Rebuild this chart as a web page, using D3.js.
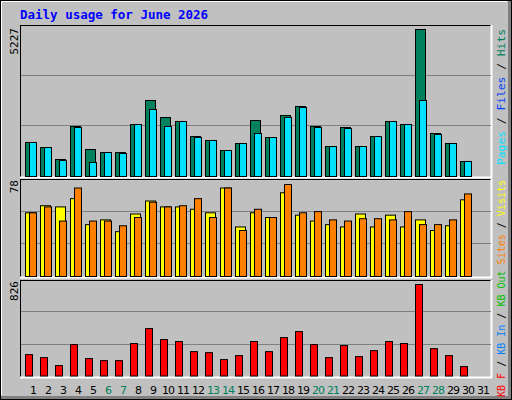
<!DOCTYPE html><html><head><meta charset="utf-8">
<script src="https://cdn.jsdelivr.net/npm/d3@7"></script>
<style>body{margin:0;background:#fff}</style></head><body>
<script>
const days = d3.range(1,32);
const weekend = [6,7,13,14,20,21,27,28];
const hits  = [1185,1010,592,1743,941,836,836,1812,2649,2056,1917,1394,1255,906,1150,1952,1359,2126,2440,1743,1045,1708,1045,1394,1917,1812,5122,1498,1150,523];
const pages = [1185,1010,557,1708,488,836,801,1812,2335,1743,1917,1359,1255,906,1150,1498,1359,2056,2405,1708,1045,1673,1045,1394,1917,1812,2649,1463,1150,523];
const visits= [54,60,59,66,44,48,38,53,64,59,59,57,54,75,42,54,50,71,52,47,44,42,53,42,52,42,48,39,43,65];
const sites = [54,59,47,75,47,47,43,50,63,59,60,66,50,75,39,57,50,78,54,55,48,47,49,49,48,55,44,44,48,70];
const kbytes= [193,166,94,284,157,139,139,293,428,329,311,220,211,148,184,311,220,347,401,284,166,275,175,229,311,293,826,247,184,85];
const maxLabels = ["5227","78","826"];

const W=512,H=400;
const svg=d3.select("body").append("svg").attr("width",W).attr("height",H);
svg.append("rect").attr("width",W).attr("height",H).attr("fill","#808080");
svg.append("rect").attr("x",0).attr("y",0).attr("width",508).attr("height",396).attr("fill","#C0C0C0");
svg.append("rect").attr("x",0.5).attr("y",0.5).attr("width",W-1).attr("height",H-1).attr("fill","none").attr("stroke","#000");
svg.append("path").attr("d","M1.5,395V1.5H507").attr("stroke","#fff").attr("fill","none");

svg.append("text").attr("x",20).attr("y",19).attr("fill","#0000FF").attr("font-family","DejaVu Sans Mono").attr("font-weight","bold").attr("font-size",12.5).text("Daily usage for June 2026");

const x=d3.scaleLinear().domain([1,2]).range([25,40]);
function panel(y0,y1){
  svg.append("line").attr("x1",20).attr("x2",491).attr("y1",y0+0.5).attr("y2",y0+0.5).attr("stroke","#000");
  svg.append("line").attr("x1",20.5).attr("x2",20.5).attr("y1",y0).attr("y2",y1).attr("stroke","#000");
  svg.append("line").attr("x1",20).attr("x2",492).attr("y1",y1+0.5).attr("y2",y1+0.5).attr("stroke","#fff").attr("stroke-width",2);
  svg.append("line").attr("x1",491.5).attr("x2",491.5).attr("y1",y0).attr("y2",y1+1).attr("stroke","#fff").attr("stroke-width",2);
  const h=y1-y0;
  [1/3,2/3].forEach(f=>svg.append("line").attr("x1",21).attr("x2",491).attr("y1",Math.round(y1-1-h*f)+0.5).attr("y2",Math.round(y1-1-h*f)+0.5).attr("stroke","#808080"));
}
panel(25,177); panel(179,277); panel(280,377);

function bars(data,y,off,w,color){
  svg.append("g").selectAll("rect").data(data).join("rect")
    .attr("x",(d,i)=>x(i+1)+off+0.5).attr("y",d=>y(d)+0.5).attr("width",w).attr("height",d=>y(0)-y(d))
    .attr("fill",color).attr("stroke","#000");
}
const y1=d3.scaleLinear().domain([0,5227]).range([176,26]);
bars(hits,y1,0,10,"#00805C"); bars(pages,y1,4,7,"#00E0FF");
const y2=d3.scaleLinear().domain([0,78]).range([276,184]);
bars(visits,y2,0,10,"#FFFF00"); bars(sites,y2,4,7,"#FF8000");
const y3=d3.scaleLinear().domain([0,826]).range([375.5,284]);
bars(kbytes,y3,0,7,"#FF0000");

[[28,maxLabels[0]],[180,maxLabels[1]],[281,maxLabels[2]]].forEach(([yy,t])=>
  svg.append("text").attr("transform",`translate(18,${yy}) rotate(-90)`).attr("text-anchor","end")
   .attr("font-family","DejaVu Sans Mono").attr("font-size",11).text(t));

svg.append("g").selectAll("text").data(days).join("text")
  .attr("x",d=>x(d)+8).attr("y",394).attr("text-anchor","middle")
  .attr("font-family","DejaVu Sans").attr("font-size",11).attr("letter-spacing",-1)
  .attr("fill",d=>weekend.includes(d)?"#00805C":"#000").text(d=>d);

function rlabel(yy,len,parts){
  const t=svg.append("text").attr("transform",`translate(505,${yy}) rotate(-90)`)
   .attr("font-family","DejaVu Sans Mono").attr("font-size",10.5)
   .attr("textLength",len).attr("lengthAdjust","spacingAndGlyphs");
  parts.forEach(([s,c])=>t.append("tspan").attr("fill",c).text(s));
}
rlabel(165,136,[["Pages","#00E0FF"],[" / ","#000"],["Files","#0040FF"],[" / ","#000"],["Hits","#00805C"]]);
rlabel(397,217,[["KB F","#FF0000"],[" / ","#000"],["KB In","#0080FF"],[" / ","#000"],["KB Out","#00C000"],[" ","#000"],["Sites","#FF8000"],[" / ","#000"],["Visits","#FFFF00"]]);
</script></body></html>
